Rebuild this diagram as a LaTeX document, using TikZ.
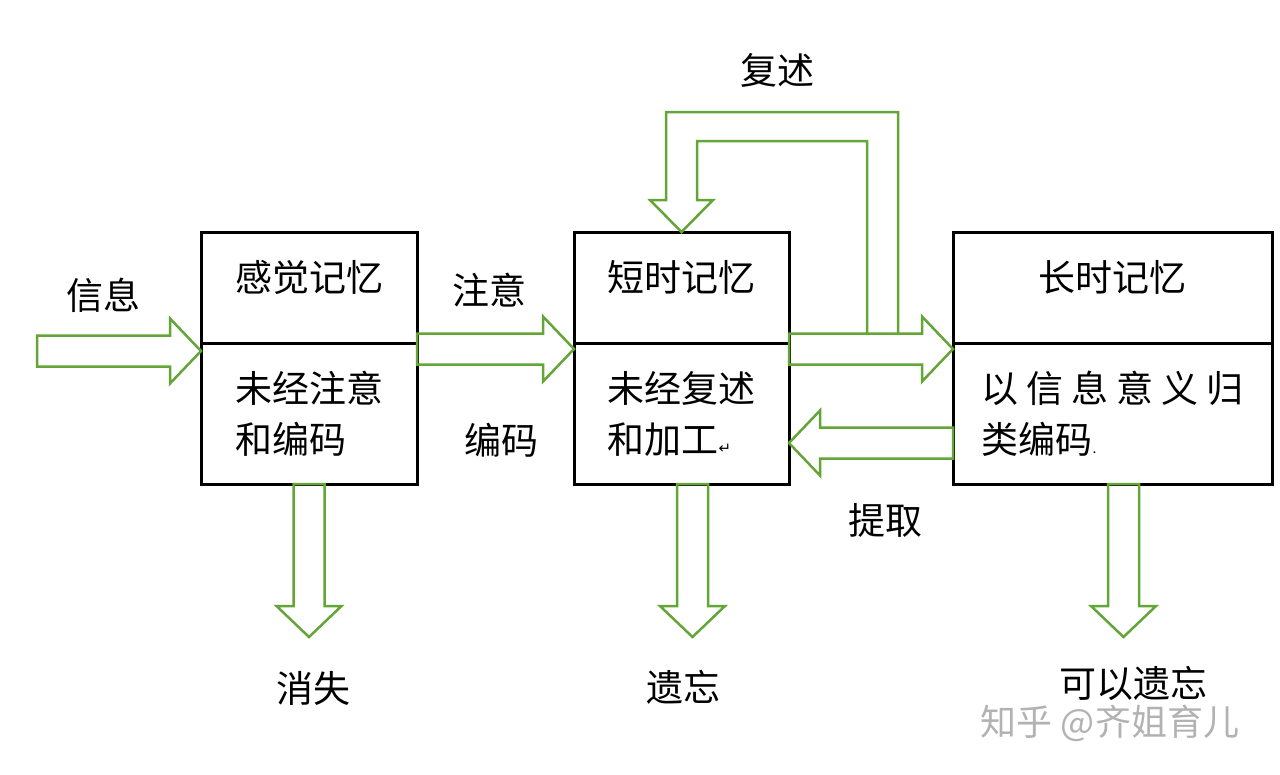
\documentclass[tikz,border=0pt]{standalone}
\usepackage{fontspec}
\setmainfont{Noto Sans CJK SC}
\newfontfamily\symfont{DejaVu Sans}
\usepackage{xcolor}
\usepackage{tikz}
\usetikzlibrary{positioning,calc}
\definecolor{arrowgreen}{RGB}{100,165,55}

\begin{document}
\begin{tikzpicture}[x=1pt, y=1pt,
    font=\fontsize{37}{51}\selectfont,
    box/.style={rectangle, draw, line width=3pt, inner sep=0pt, outer sep=0pt, minimum height=111pt, text height=28pt, text depth=20pt},
    lower/.style={rectangle, draw, line width=3pt, inner sep=0pt, outer sep=0pt, minimum height=141pt, align=left},
    note/.style={inner sep=0pt},
    hollow/.style={draw=arrowgreen, line width=2.5pt},
    block/.style={hollow, to path={let \p1=(\tikztostart), \p2=(\tikztotarget) in
        ($(\p1)!15.5pt!90:(\p2)$) -- ($(\p2)!31pt!(\p1)!15.5pt!-90:(\p1)$)
        -- ($(\p2)!31pt!(\p1)!32.5pt!-90:(\p1)$) -- (\p2)
        -- ($(\p2)!31pt!(\p1)!32.5pt!90:(\p1)$) -- ($(\p2)!31pt!(\p1)!15.5pt!90:(\p1)$)
        -- ($(\p1)!15.5pt!-90:(\p2)$) -- cycle}}]
    \useasboundingbox (0,0) rectangle (1280,-774);

    \node (sensetop) [box, minimum width=216pt] at (309,-287.5) {感觉记忆};
    \node (sensebot) [lower, minimum width=216pt, below=0pt of sensetop] {未经注意\\和编码};
    \node (shorttop) [box, minimum width=215pt] at (681.5,-287.5) {短时记忆};
    \node (shortbot) [lower, minimum width=215pt, below=0pt of shorttop] {未经复述\\和加工{\symfont\fontsize{15}{15}\selectfont ↵}};
    \node (longtop) [box, minimum width=319pt] at (1112.5,-287.5) {长时记忆};
    \node (longbot) [lower, minimum width=319pt, below=0pt of longtop] {以\hspace{8pt}信\hspace{8pt}息\hspace{8pt}意\hspace{8pt}义\hspace{8pt}归\\类编码{\fontsize{14}{14}\selectfont .}};

    \node (info) [note] at (103,-295) {信息};
    \node (attend) [note] at (489,-290) {注意};
    \node (encode) [note] at (501,-440) {编码};
    \node (rehearse) [note] at (777,-70) {复述};
    \node (retrieve) [note] at (885,-520) {提取};
    \node (vanish) [note] at (313,-688) {消失};
    \node (forget) [note] at (683,-687) {遗忘};
    \node (mayforget) [note] at (1133,-683) {可以遗忘};
    \node (mark) [note, text=gray!60, font=\fontsize{36}{40}\selectfont] at (1110,-723) {知乎 @齐姐育儿};

    \coordinate (in) at (37,-351);
    \draw [block] (in) to ($(sensebot.north west)+(0,-8)$);
    \draw [block] ($(sensebot.north east)+(0,-6)$) to ($(shortbot.north west)+(0,-6)$);
    \draw [block] ($(shortbot.north east)+(0,-6)$) to ($(longbot.north west)+(0,-6)$);
    \draw [block] ($(longbot.north west)+(0,-100)$) to ($(shortbot.north east)+(0,-100)$);

    \draw [block] (sensebot.south) to ($(sensebot.south)+(0,-153)$);
    \draw [block] ($(shortbot.south)+(11,0)$) to ($(shortbot.south)+(11,-153)$);
    \draw [block] ($(longbot.south)+(11,0)$) to ($(longbot.south)+(11,-153)$);

    % rehearsal loop back into short-term memory
    \coordinate (loop) at ($(shortbot.north east)+(109,8)$);
    \draw [hollow] (loop) -- ++(0,223) -- ++(-232,0) -- ++(0,-88) -- ++(-16,0) -- (shorttop.north)
        -- ++(31.5,32) -- ++(-16,0) -- ++(0,59) -- ++(170,0) -- ++(0,-194);
\end{tikzpicture}
\end{document}
